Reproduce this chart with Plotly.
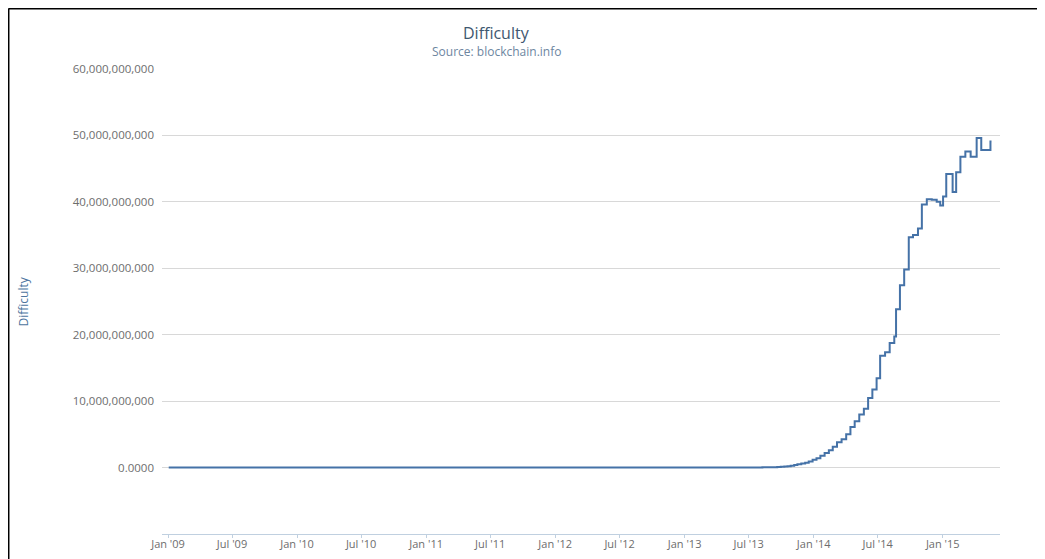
import plotly.graph_objects as go

# difficulty change points (step chart)
dates = [
    "2009-01-03", "2009-12-30", "2010-01-11", "2010-05-16", "2010-07-16",
    "2010-08-13", "2010-09-14", "2010-10-15", "2010-11-23", "2010-12-22",
    "2011-01-29", "2011-02-25", "2011-03-25", "2011-04-20", "2011-05-13",
    "2011-06-02", "2011-06-17", "2011-07-23", "2011-08-11", "2011-09-19",
    "2011-10-11", "2011-11-15", "2011-12-14", "2012-01-16", "2012-02-11",
    "2012-03-17", "2012-04-28", "2012-06-10", "2012-07-13", "2012-08-11",
    "2012-09-12", "2012-10-10", "2012-11-14", "2012-12-15", "2013-01-14",
    "2013-02-09", "2013-03-06", "2013-04-01", "2013-04-25", "2013-05-16",
    "2013-06-07", "2013-06-21", "2013-07-05", "2013-07-17", "2013-07-28",
    "2013-08-09", "2013-08-20", "2013-08-30", "2013-09-10", "2013-09-20",
    "2013-09-30", "2013-10-10", "2013-10-19", "2013-10-28", "2013-11-07",
    "2013-11-16", "2013-11-27", "2013-12-08", "2013-12-18", "2013-12-29",
    "2014-01-09", "2014-01-20", "2014-02-01", "2014-02-13", "2014-02-24",
    "2014-03-08", "2014-03-21", "2014-04-03", "2014-04-15", "2014-04-27",
    "2014-05-10", "2014-05-23", "2014-06-04", "2014-06-16", "2014-06-28",
    "2014-07-08", "2014-07-22", "2014-08-04", "2014-08-17", "2014-08-22",
    "2014-09-02", "2014-09-14", "2014-09-27", "2014-10-09", "2014-10-23",
    "2014-11-03", "2014-11-17", "2014-12-01", "2014-12-15", "2014-12-25",
    "2015-01-02", "2015-01-11", "2015-01-29", "2015-02-08", "2015-02-20",
    "2015-03-06", "2015-03-21", "2015-04-07", "2015-04-20", "2015-05-16",
    "2015-05-19",
]
difficulty = [
    1, 1.18, 1.31, 11.46, 181.54,
    512.9, 1379.2, 4536.35, 8078.2, 14484.2,
    16818.1, 22012.4, 67108.3, 92347.5, 244139.5,
    567269.5, 1379223.4, 1563027.9, 1690906.2, 1468195.4,
    1192497.8, 1090715.7, 1192497.8, 1250757.7, 1376302.3,
    1626553.5, 1733207.5, 1866391.3, 2036010.5, 2440642.5,
    2864140.5, 3368767.5, 3438908.9, 3275464.5, 3368767.5,
    3651012.1, 4367876.1, 6695826.3, 8974296.0, 11187257.5,
    12153411.7, 15605632.7, 19339258.3, 21335329.9, 26162875.7,
    31256960.7, 37392766.1, 50810339.0, 65750060.5, 86933017.8,
    112628548.7, 148819199.8, 189281249.7, 267731249.4, 390928787.6,
    510929738.0, 609482679.9, 707408283.7, 908350862.5, 1180923195.3,
    1418481395.3, 1789546951.1, 2193847870.2, 2621404453.1, 3129573175.0,
    3815723798.8, 4250217920.0, 5006860589.2, 6119726089.1, 6978842649.6,
    8000872135.4, 8853416309.1, 10455720138.5, 11756551916.9, 13462580114.5,
    16818461371.3, 17345997805.9, 18736441558.9, 19729645940.6, 23844670038.8,
    27428630902.3, 29829733124.0, 34661425923.9, 35002482026.1, 35985640265.1,
    39603666252.4, 40400000000.0, 40300030327.9, 40007470271.3, 39457671307.0,
    40800000000.0, 44200000000.0, 41500000000.0, 44455415962.0, 46800000000.0,
    47589591153.6, 46800000000.0, 49600000000.0, 47800000000.0, 49100000000.0,
    49100000000.0,
]

y_ticks = [0, 1e10, 2e10, 3e10, 4e10, 5e10, 6e10]
y_tick_text = ["0.0000", "10,000,000,000", "20,000,000,000", "30,000,000,000",
               "40,000,000,000", "50,000,000,000", "60,000,000,000"]

FONT = "Open Sans, DejaVu Sans, sans-serif"

fig = go.Figure()
fig.add_trace(go.Scatter(
    x=dates, y=difficulty, mode="lines", line_shape="hv",
    line=dict(color="#4572A7", width=2), name="Difficulty",
))

# page body has an 8px margin, so the figure is 8px smaller and shifted
fig.update_layout(
    width=1037, height=551,
    margin=dict(l=154, r=45, t=61, b=25),
    paper_bgcolor="white", plot_bgcolor="white",
    showlegend=False,
    font=dict(family=FONT, size=11, color="#6d6d6d"),
    xaxis=dict(
        type="date", range=["2008-12-15", "2015-06-12"],
        tick0="2009-01-01", dtick="M6", tickformat="%b '%y",
        showgrid=False, zeroline=False, automargin=False,
        showline=True, linecolor="#C0D0E0", linewidth=1,
        ticks="outside", ticklen=3, tickcolor="#C0D0E0",
        ticklabelstandoff=-3,
        tickfont=dict(size=11, color="#6d6d6d"),
    ),
    yaxis=dict(
        range=[-1e10, 6e10], tickvals=y_ticks, ticktext=y_tick_text,
        showgrid=True, gridcolor="#d8d8d8", gridwidth=1,
        zeroline=False, showline=False, ticks="", automargin=False,
        ticklabelstandoff=7,
        tickfont=dict(size=11.5, color="#6d6d6d"),
    ),
)

# titles
fig.add_annotation(text="Difficulty", xref="paper", yref="paper", x=0.3986, y=1.0774,
                   showarrow=False, xanchor="center", yanchor="middle", borderpad=0,
                   font=dict(family=FONT, size=16, color="#3E576F"))
fig.add_annotation(text="Source: blockchain.info", xref="paper", yref="paper",
                   x=0.3986, y=1.0366, showarrow=False, xanchor="center", yanchor="middle",
                   borderpad=0, font=dict(family=FONT, size=12, color="#6D869F"))
fig.add_annotation(text="Difficulty", xref="paper", yref="paper", x=-0.1647, y=0.5,
                   textangle=-90, showarrow=False, xanchor="center", yanchor="middle",
                   font=dict(family=FONT, size=12, color="#4d759e"))

# screenshot frame (black border at top and left)
fig.add_shape(type="line", xref="paper", yref="paper", x0=-0.1832, x1=1.06, y0=1.1301, y1=1.1301,
              line=dict(color="black", width=2))
fig.add_shape(type="line", xref="paper", yref="paper", x0=-0.1832, x1=-0.1832, y0=1.1301, y1=-0.06,
              line=dict(color="black", width=2))

fig.write_html("out.html")
